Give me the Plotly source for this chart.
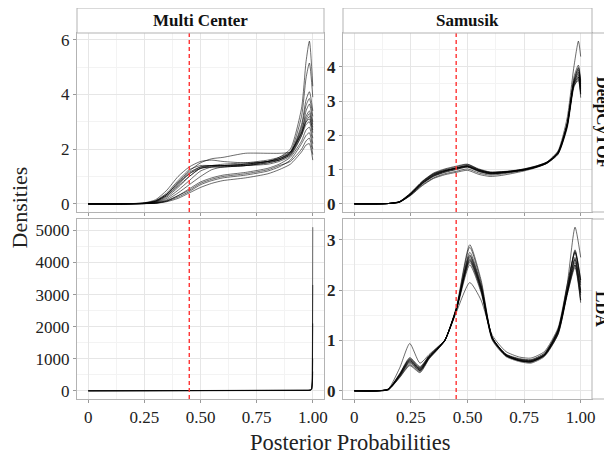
import plotly.graph_objects as go

# ---------------- data ----------------
datasets = ["Multi Center", "Samusik"]
methods = ["DeepCyTOF", "LDA"]
threshold = 0.45

x_mc_dc = [0, 0.15, 0.25, 0.3, 0.35, 0.4, 0.45, 0.5, 0.55, 0.6, 0.7, 0.8, 0.85, 0.9, 0.95, 0.97, 0.985, 1.0]
mc_dc = [
    [0, 0, 0.02, 0.10, 0.35, 0.75, 1.10, 1.30, 1.35, 1.35, 1.40, 1.55, 1.70, 2.00, 3.50, 5.20, 5.95, 4.30],
    [0, 0, 0.03, 0.12, 0.40, 0.85, 1.25, 1.40, 1.40, 1.40, 1.45, 1.55, 1.65, 1.90, 3.20, 4.60, 5.15, 3.90],
    [0, 0, 0.02, 0.08, 0.30, 0.65, 1.00, 1.30, 1.35, 1.35, 1.40, 1.50, 1.60, 1.85, 2.90, 3.80, 4.10, 3.40],
    [0, 0, 0.04, 0.15, 0.50, 1.00, 1.35, 1.55, 1.60, 1.55, 1.50, 1.55, 1.65, 1.85, 2.80, 3.60, 3.85, 3.20],
    [0, 0, 0.03, 0.10, 0.35, 0.80, 1.20, 1.50, 1.65, 1.70, 1.85, 1.85, 1.85, 1.90, 2.60, 3.40, 3.65, 3.00],
    [0, 0, 0.01, 0.05, 0.20, 0.50, 0.85, 1.20, 1.35, 1.40, 1.40, 1.45, 1.55, 1.75, 2.50, 3.10, 3.30, 2.80],
    [0, 0, 0.02, 0.08, 0.30, 0.70, 1.10, 1.35, 1.40, 1.40, 1.45, 1.55, 1.60, 1.80, 2.60, 3.00, 3.20, 2.60],
    [0, 0, 0.01, 0.04, 0.15, 0.40, 0.70, 1.00, 1.25, 1.35, 1.40, 1.50, 1.60, 1.80, 2.50, 2.90, 3.00, 2.40],
    [0, 0, 0.01, 0.03, 0.12, 0.30, 0.55, 0.80, 0.95, 1.05, 1.15, 1.30, 1.45, 1.70, 2.30, 2.70, 2.80, 2.20],
    [0, 0, 0.01, 0.02, 0.10, 0.25, 0.45, 0.70, 0.85, 0.95, 1.05, 1.20, 1.35, 1.60, 2.20, 2.50, 2.60, 2.00],
    [0, 0, 0.01, 0.03, 0.10, 0.30, 0.50, 0.75, 0.90, 1.00, 1.10, 1.25, 1.40, 1.55, 2.00, 2.30, 2.40, 1.80],
    [0, 0, 0.01, 0.02, 0.08, 0.20, 0.40, 0.60, 0.75, 0.85, 0.95, 1.10, 1.25, 1.45, 1.90, 2.15, 2.20, 1.60],
    [0, 0, 0.02, 0.10, 0.35, 0.75, 1.15, 1.35, 1.40, 1.40, 1.45, 1.55, 1.65, 1.85, 2.70, 3.20, 3.40, 2.90],
    [0, 0, 0.02, 0.06, 0.25, 0.60, 1.00, 1.30, 1.40, 1.45, 1.50, 1.60, 1.70, 1.90, 2.60, 3.00, 3.10, 2.70],
]

x_sa_dc = [0, 0.1, 0.15, 0.2, 0.25, 0.3, 0.35, 0.4, 0.45, 0.5, 0.55, 0.6, 0.65, 0.7, 0.75, 0.8, 0.85, 0.9, 0.94, 0.97, 0.99, 1.0]
sa_dc = [
    [0, 0, 0.01, 0.05, 0.28, 0.60, 0.82, 0.95, 1.05, 1.12, 1.00, 0.92, 0.93, 0.96, 1.02, 1.10, 1.22, 1.55, 2.50, 4.00, 4.75, 4.30],
    [0, 0, 0.01, 0.06, 0.30, 0.64, 0.88, 1.00, 1.08, 1.15, 1.02, 0.93, 0.94, 0.97, 1.02, 1.10, 1.22, 1.50, 2.35, 3.70, 4.05, 3.60],
    [0, 0, 0.01, 0.07, 0.33, 0.66, 0.90, 1.02, 1.10, 1.16, 1.00, 0.92, 0.93, 0.96, 1.00, 1.08, 1.20, 1.48, 2.30, 3.60, 3.95, 3.50],
    [0, 0, 0.01, 0.05, 0.27, 0.58, 0.80, 0.92, 1.00, 1.08, 0.97, 0.90, 0.91, 0.95, 1.00, 1.07, 1.18, 1.45, 2.25, 3.50, 3.85, 3.40],
    [0, 0, 0.01, 0.06, 0.29, 0.60, 0.83, 0.95, 1.03, 1.10, 0.98, 0.90, 0.92, 0.95, 1.00, 1.08, 1.20, 1.50, 2.30, 3.50, 3.75, 3.30],
    [0, 0, 0.01, 0.05, 0.26, 0.55, 0.76, 0.88, 0.95, 1.02, 0.90, 0.84, 0.87, 0.92, 0.98, 1.06, 1.18, 1.45, 2.20, 3.40, 3.65, 3.20],
    [0, 0, 0.01, 0.06, 0.31, 0.63, 0.86, 0.97, 1.04, 1.10, 0.96, 0.88, 0.90, 0.94, 0.99, 1.07, 1.20, 1.52, 2.35, 3.55, 3.80, 3.35],
    [0, 0, 0.01, 0.05, 0.25, 0.53, 0.74, 0.85, 0.92, 0.98, 0.86, 0.80, 0.83, 0.89, 0.96, 1.05, 1.18, 1.48, 2.25, 3.45, 3.70, 3.25],
    [0, 0, 0.01, 0.06, 0.30, 0.62, 0.85, 0.97, 1.05, 1.12, 0.99, 0.91, 0.93, 0.96, 1.01, 1.09, 1.21, 1.50, 2.30, 3.45, 3.60, 3.10],
    [0, 0, 0.01, 0.07, 0.32, 0.65, 0.88, 0.98, 1.04, 1.09, 0.95, 0.88, 0.90, 0.94, 0.99, 1.07, 1.19, 1.47, 2.28, 3.50, 3.70, 3.20],
    [0, 0, 0.01, 0.05, 0.28, 0.59, 0.81, 0.93, 1.01, 1.07, 0.94, 0.87, 0.90, 0.94, 0.99, 1.07, 1.19, 1.49, 2.30, 3.55, 3.90, 3.45],
    [0, 0, 0.01, 0.06, 0.30, 0.61, 0.84, 0.96, 1.03, 1.09, 0.97, 0.89, 0.91, 0.95, 1.00, 1.08, 1.20, 1.50, 2.32, 3.60, 3.98, 3.55],
]

x_mc_lda = [0, 0.25, 0.5, 0.75, 0.9, 0.95, 0.97, 0.98, 0.99, 0.995, 0.998, 1.0]
mc_lda = [
    [0, 0, 0, 0, 0, 2, 5, 12, 30, 80, 400, 5100],
    [0, 0, 0, 0, 0, 2, 4, 10, 25, 70, 300, 3300],
    [0, 0, 0, 0, 0, 1, 3, 8, 20, 60, 250, 2100],
    [0, 0, 0, 0, 0, 1, 3, 7, 18, 50, 200, 1000],
    [0, 0, 0, 0, 0, 1, 2, 6, 15, 40, 150, 600],
]

x_sa_lda = [0, 0.1, 0.15, 0.2, 0.245, 0.29, 0.33, 0.37, 0.4, 0.45, 0.51, 0.56, 0.61, 0.67, 0.73, 0.78, 0.84, 0.9, 0.94, 0.975, 1.0]
sa_lda = [
    [0, 0, 0.04, 0.45, 0.94, 0.55, 0.72, 0.88, 1.00, 1.55, 2.15, 1.80, 1.10, 0.78, 0.67, 0.65, 0.78, 1.25, 2.10, 2.75, 2.10],
    [0, 0, 0.03, 0.32, 0.62, 0.42, 0.66, 0.85, 1.00, 1.65, 2.90, 2.20, 1.05, 0.70, 0.60, 0.58, 0.72, 1.20, 2.10, 3.25, 2.65],
    [0, 0, 0.03, 0.30, 0.58, 0.40, 0.65, 0.84, 1.00, 1.62, 2.85, 2.15, 1.05, 0.70, 0.60, 0.58, 0.70, 1.15, 1.95, 2.80, 2.20],
    [0, 0, 0.03, 0.33, 0.63, 0.45, 0.68, 0.86, 1.00, 1.60, 2.75, 2.10, 1.05, 0.72, 0.62, 0.60, 0.72, 1.20, 2.00, 2.75, 2.15],
    [0, 0, 0.02, 0.28, 0.55, 0.40, 0.66, 0.85, 1.00, 1.62, 2.65, 2.05, 1.03, 0.70, 0.60, 0.57, 0.70, 1.15, 1.95, 2.60, 1.95],
    [0, 0, 0.03, 0.30, 0.60, 0.44, 0.68, 0.86, 1.01, 1.60, 2.60, 2.02, 1.05, 0.72, 0.62, 0.60, 0.72, 1.18, 1.95, 2.55, 1.90],
    [0, 0, 0.02, 0.27, 0.52, 0.38, 0.64, 0.83, 0.99, 1.60, 2.55, 1.98, 1.02, 0.70, 0.60, 0.57, 0.70, 1.12, 1.90, 2.50, 1.80],
    [0, 0, 0.03, 0.34, 0.66, 0.48, 0.70, 0.87, 1.01, 1.58, 2.50, 1.95, 1.05, 0.73, 0.64, 0.62, 0.75, 1.20, 1.95, 2.50, 1.80],
    [0, 0, 0.02, 0.29, 0.57, 0.41, 0.66, 0.84, 1.00, 1.63, 2.70, 2.08, 1.03, 0.70, 0.60, 0.58, 0.71, 1.16, 1.95, 2.65, 2.00],
    [0, 0, 0.03, 0.31, 0.60, 0.43, 0.67, 0.85, 1.00, 1.61, 2.62, 2.03, 1.04, 0.71, 0.61, 0.59, 0.72, 1.18, 1.98, 2.62, 1.95],
    [0, 0, 0.02, 0.26, 0.50, 0.36, 0.63, 0.83, 1.00, 1.62, 2.58, 2.00, 1.00, 0.68, 0.58, 0.55, 0.68, 1.12, 1.90, 2.45, 1.75],
    [0, 0, 0.03, 0.32, 0.64, 0.46, 0.69, 0.86, 1.01, 1.60, 2.68, 2.06, 1.06, 0.72, 0.63, 0.61, 0.74, 1.22, 2.05, 2.78, 2.20],
]

x_tickvals = [0, 0.25, 0.5, 0.75, 1.0]
x_ticktext = ["0", "0.25", "0.50", "0.75", "1.00"]
y_tickvals = {
    (0, 0): [0, 2, 4, 6],
    (0, 1): [0, 1, 2, 3, 4],
    (1, 0): [0, 1000, 2000, 3000, 4000, 5000],
    (1, 1): [0, 1, 2, 3],
}
y_minor = {(0, 0): 1, (0, 1): 0.5, (1, 0): 500, (1, 1): 0.5}

# ---------------- layout geometry (pixels of the window) ----------------
OX, OY = 8, 8          # page body margin offset
W, H = 612 - OX, 458 - OY
FONT = "Liberation Serif"
px = lambda v: (v - OX) / W
py = lambda v: 1 - (v - OY) / H

col_x = [(77, 324), (343, 592)]
row_y = [(33, 212), (219, 399)]

fig = go.Figure()

panels = [
    (0, 0, x_mc_dc, mc_dc, "spline"),
    (0, 1, x_sa_dc, sa_dc, "spline"),
    (1, 0, x_mc_lda, mc_lda, "linear"),
    (1, 1, x_sa_lda, sa_lda, "spline"),
]

for r, c, xs, curves, shape in panels:
    idx = r * 2 + c + 1
    xa = "x" if idx == 1 else f"x{idx}"
    ya = "y" if idx == 1 else f"y{idx}"
    for ys in curves:
        fig.add_trace(go.Scatter(
            x=xs, y=ys, mode="lines", xaxis=xa, yaxis=ya,
            line=dict(color="rgba(0,0,0,0.72)", width=0.8, shape=shape, smoothing=0.6),
            showlegend=False, hoverinfo="skip"))
    ymax = max(max(v) for v in curves)
    tv = y_tickvals[(r, c)]
    if c == 1:
        tt = [f"<b>{v}</b>" for v in tv]
    else:
        tt = [str(v) for v in tv]
    xkey = "xaxis" if idx == 1 else f"xaxis{idx}"
    ykey = "yaxis" if idx == 1 else f"yaxis{idx}"
    fig.layout[xkey] = dict(
        domain=[px(col_x[c][0]), px(col_x[c][1])],
        anchor=ya, range=[-0.05, 1.05],
        tickvals=x_tickvals, ticktext=x_ticktext,
        showticklabels=(r == 1),
        tickfont=dict(family=FONT, size=17, color="#222222"),
        ticks="outside", ticklen=3, tickcolor="#999999",
        showgrid=True, gridcolor="#e6e6e6", gridwidth=0.8,
        minor=dict(dtick=0.125, tick0=0, showgrid=True, gridcolor="#f3f3f3", gridwidth=0.6, ticks=""),
        showline=True, linecolor="#b3b3b3", linewidth=1, mirror=True,
        zeroline=False, fixedrange=True, automargin=False)
    fig.layout[ykey] = dict(
        domain=[py(row_y[r][1]), py(row_y[r][0])],
        anchor=xa, range=[-0.05 * ymax, 1.05 * ymax],
        tickvals=tv, ticktext=tt,
        tickfont=dict(family=FONT, size=17, color="#222222"),
        ticks="outside", ticklen=3, tickcolor="#999999",
        showgrid=True, gridcolor="#e6e6e6", gridwidth=0.8,
        minor=dict(dtick=y_minor[(r, c)], tick0=0, showgrid=True, gridcolor="#f3f3f3", gridwidth=0.6, ticks=""),
        showline=True, linecolor="#b3b3b3", linewidth=1, mirror=True,
        zeroline=False, fixedrange=True, automargin=False)
    # threshold line
    fig.add_shape(type="line", xref=xa, yref=f"{ya} domain", x0=threshold, x1=threshold, y0=0, y1=1,
                  line=dict(color="#ff3333", width=1.4, dash="4px,3px"))

# strips (top)
for c, name in enumerate(datasets):
    fig.add_shape(type="rect", xref="paper", yref="paper",
                  x0=px(col_x[c][0]), x1=px(col_x[c][1]), y0=py(33), y1=py(8),
                  line=dict(color="#b3b3b3", width=1), fillcolor="white")
    fig.add_annotation(xref="paper", yref="paper", x=px((col_x[c][0] + col_x[c][1]) / 2), y=py(20.5),
                       xanchor="center", yanchor="middle",
                       text=f"<b>{name}</b>", showarrow=False,
                       font=dict(family=FONT, size=17, color="#111111"))
# strips (right)
for r, name in enumerate(methods):
    fig.add_shape(type="rect", xref="paper", yref="paper",
                  x0=px(592), x1=px(625), y0=py(row_y[r][1]), y1=py(row_y[r][0]),
                  line=dict(color="#b3b3b3", width=1), fillcolor="white")
    fig.add_annotation(xref="paper", yref="paper", x=px(602), y=py((row_y[r][0] + row_y[r][1]) / 2),
                       xanchor="center", yanchor="middle",
                       text=f"<b>{name}</b>", showarrow=False, textangle=90,
                       font=dict(family=FONT, size=17, color="#111111"))

# axis titles
fig.add_annotation(xref="paper", yref="paper", x=px(350), y=py(442), text="Posterior Probabilities",
                   xanchor="center", yanchor="middle",
                   showarrow=False, font=dict(family=FONT, size=22.5, color="#222222"))
fig.add_annotation(xref="paper", yref="paper", x=px(18.5), y=py(208), text="Densities", textangle=-90,
                   xanchor="center", yanchor="middle",
                   showarrow=False, font=dict(family=FONT, size=22, color="#222222"))

fig.update_layout(width=W, height=H, margin=dict(l=0, r=0, t=0, b=0, autoexpand=False),
                  paper_bgcolor="white", plot_bgcolor="white", showlegend=False)

fig.write_html("out.html")
